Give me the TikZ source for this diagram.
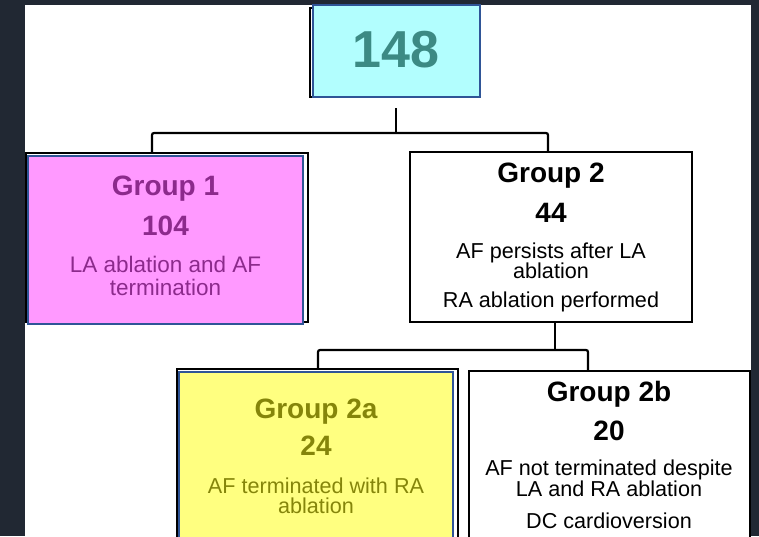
\documentclass[tikz,border=0pt]{standalone}
\usepackage{fontspec}
\setmainfont{Liberation Sans}
\usepackage{tikz}
\usepackage{xcolor}

\definecolor{pagebg}{RGB}{33,40,51}
\definecolor{cyanfill}{RGB}{178,254,254}
\definecolor{tealtext}{RGB}{60,138,132}
\definecolor{boxblue}{RGB}{47,85,151}
\definecolor{pinkfill}{RGB}{255,153,255}
\definecolor{purpletext}{RGB}{140,42,140}
\definecolor{yellowfill}{RGB}{255,255,128}
\definecolor{olivetext}{RGB}{133,133,10}

% word space of the font in use, with no stretch
\newcommand{\plainspace}{\spaceskip=\fontdimen2\font\xspaceskip=\fontdimen2\font\relax}
\newcommand{\headfont}{\fontsize{28}{0}\selectfont\bfseries\plainspace}
\newcommand{\notefont}{\fontsize{21.6}{0}\selectfont\plainspace}
\newcommand{\flatskip}{\baselineskip=0pt\lineskiplimit=-1000pt\relax}

\begin{document}
\begin{tikzpicture}[x=1pt, y=-1pt,
    groupbox/.style={draw, line width=2pt, inner sep=0pt, align=center, anchor=base,
        execute at begin node=\flatskip},
    backbox/.style={draw=black, line width=2pt},
    link/.style={line width=2.2pt, rounded corners=2pt}]
    % Frame
    \useasboundingbox (0,0) rectangle (759,536);
    \clip (0,0) rectangle (759,536);
    \fill[pagebg] (0,0) rectangle (759,536);
    \fill[white] (25,5) rectangle (751,536);

    % Black outlines behind the coloured boxes
    \draw[backbox] (310,8) rectangle (476,97);
    \draw[backbox] (26,152.5) rectangle (308,322);
    \draw[backbox] (176.5,369) rectangle (458,560);

    % All patients
    \node[groupbox, draw=boxblue, fill=cyanfill, text=tealtext, text width=167pt,
        text height=62pt, text depth=30pt] (total) at (396,67)
        {\fontsize{52}{0}\selectfont\bfseries 148};

    % Group 1
    \node[groupbox, draw=boxblue, fill=pinkfill, text=purpletext, text width=275pt,
        text height=39pt, text depth=129pt] (g1) at (165.5,195)
        {{\headfont Group 1}\\[40.7pt]{\headfont 104}\\[37pt]
         {\fontsize{22.5}{0}\selectfont\plainspace LA ablation and AF}\\[23pt]
         {\fontsize{22.5}{0}\selectfont\plainspace termination}};

    % Group 2
    \node[groupbox, draw=black, fill=white, text=black, text width=282pt,
        text height=30.7pt, text depth=139.3pt] (g2) at (551,182.7)
        {{\headfont Group 2}\\[40pt]{\headfont 44}\\[35.6pt]
         {\notefont AF persists after LA}\\[20pt]
         {\notefont ablation}\\[29.4pt]
         {\notefont RA ablation performed}};

    % Group 2a
    \node[groupbox, draw=boxblue, fill=yellowfill, text=olivetext, text width=274pt,
        text height=46.3pt, text depth=141.7pt] (g2a) at (316,418.3)
        {{\headfont Group 2a}\\[36.7pt]{\headfont 24}\\[38.3pt]
         {\notefont AF terminated with RA}\\[20pt]
         {\notefont ablation}};

    % Group 2b
    \node[groupbox, draw=black, fill=white, text=black, text width=281pt,
        text height=30pt, text depth=160pt] (g2b) at (609,401)
        {{\headfont Group 2b}\\[39pt]{\headfont 20}\\[35pt]
         {\notefont AF not terminated despite}\\[21.7pt]
         {\notefont LA and RA ablation}\\[31.6pt]
         {\notefont DC cardioversion}};

    % Upper split
    \coordinate (split) at (396,133);
    \coordinate (g1tap) at (152,133);
    \coordinate (g2tap) at (548,133);
    \draw[link, shorten <=10pt] (total.south -| split) -- (split);
    \draw[link, shorten >=3pt] (g2.north -| g2tap) -- (g2tap) -- (g1tap) -- (g1.north -| g1tap);

    % Lower split
    \coordinate (split2) at (555,350);
    \coordinate (g2atap) at (318,350);
    \coordinate (g2btap) at (588,350);
    \draw[link] (g2.south -| split2) -- (split2);
    \draw[link, shorten >=3pt] (g2b.north -| g2btap) -- (g2btap) -- (g2atap) -- (g2a.north -| g2atap);
\end{tikzpicture}
\end{document}
